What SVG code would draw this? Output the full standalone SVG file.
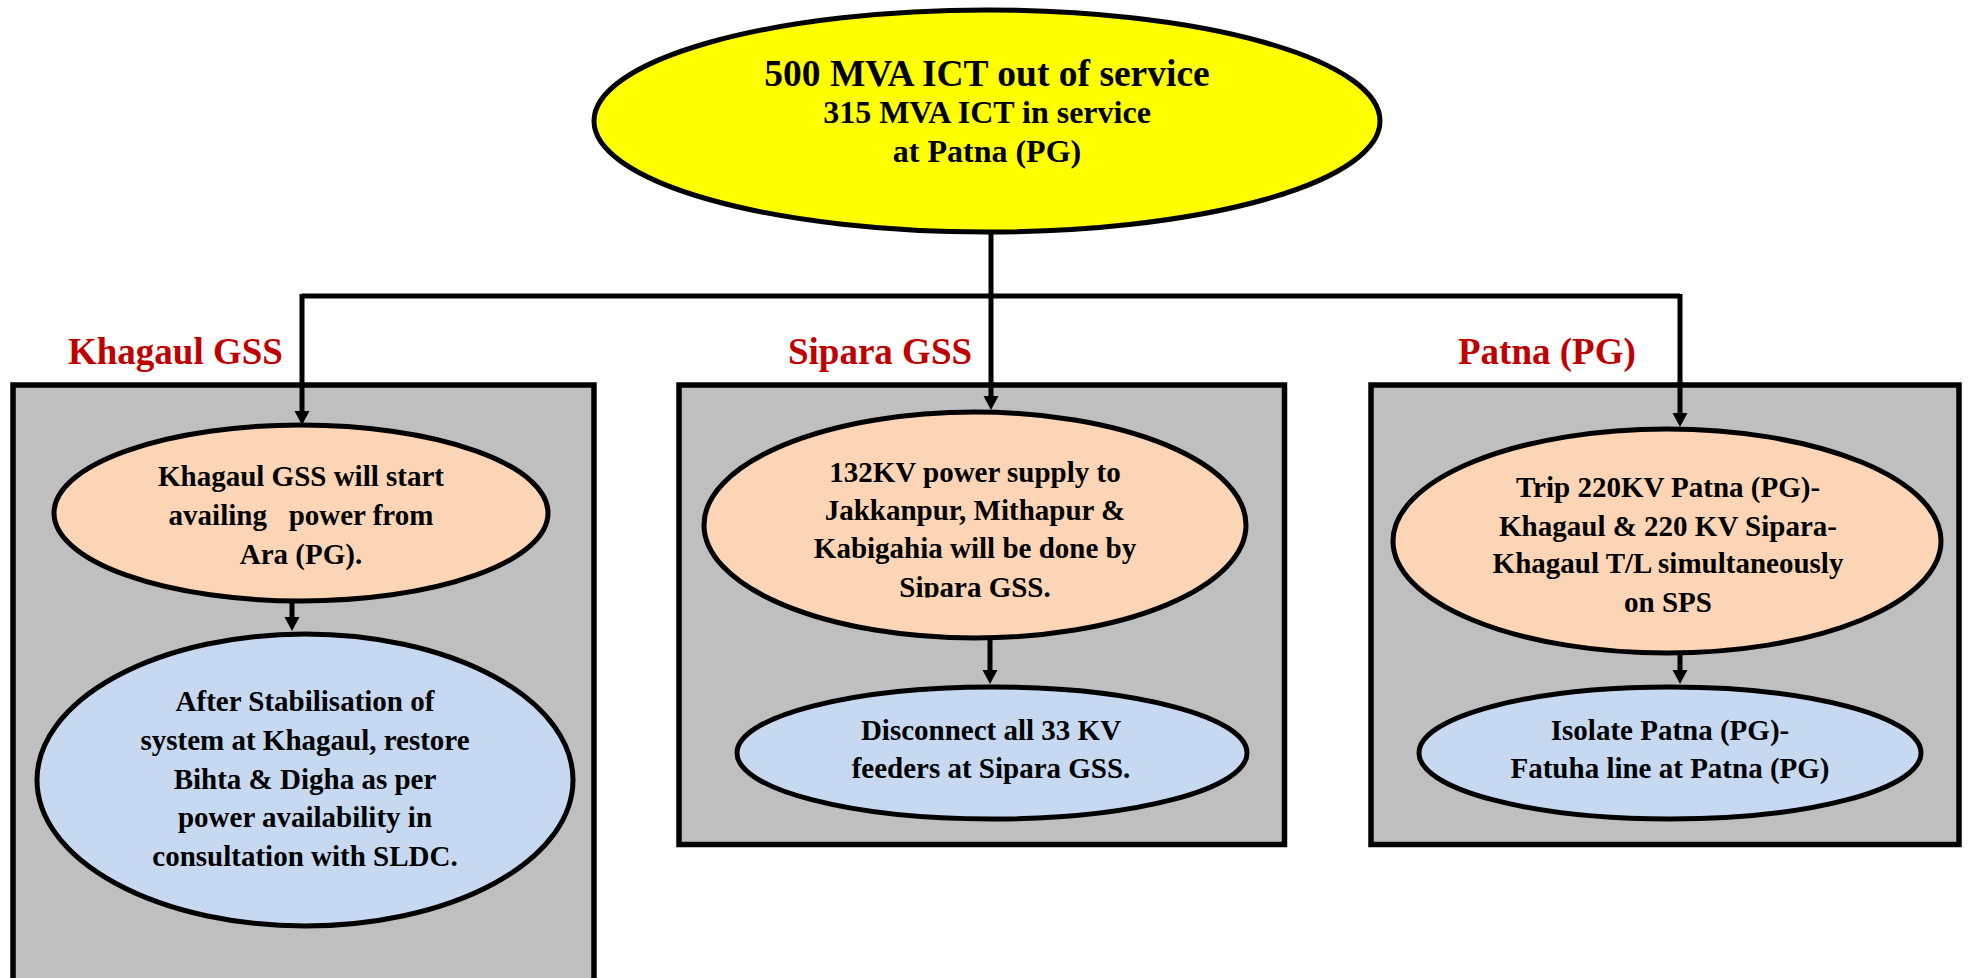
<svg xmlns="http://www.w3.org/2000/svg" width="1968" height="978" viewBox="0 0 1968 978">
<style>
.box{fill:#BFBFBF;stroke:#000;stroke-width:5.5}
.ell{stroke:#000;stroke-width:5}
.top{fill:#FFFF00}
.peach{fill:#FBD5B5}
.blue{fill:#C6D9F0}
text{font-family:"Liberation Serif","Times New Roman",serif;font-weight:bold;text-anchor:middle;fill:#000}
.t29{font-size:29px}
.lbl{font-size:37px;fill:#C00000;text-anchor:start}
.con{fill:none;stroke:#000;stroke-width:5}
</style>
<defs>
<marker id="ah" markerUnits="userSpaceOnUse" markerWidth="16" markerHeight="16" viewBox="0 -8 16 16" refX="0" refY="0" orient="auto">
<path d="M0,-7.5 L14,0 L0,7.5 Z" fill="#000"/>
</marker>
<clipPath id="clipS"><rect x="600" y="380" width="700" height="217.5"/></clipPath>
<clipPath id="clipP"><rect x="1380" y="380" width="580" height="232.5"/></clipPath>
</defs>

<g id="khagaul-box">
<rect class="box" x="13" y="385" width="581" height="620"/>
<text class="lbl" x="68" y="364">Khagaul GSS</text>
</g>
<g id="sipara-box">
<rect class="box" x="679" y="385" width="605.5" height="459.5"/>
<text class="lbl" x="788" y="364">Sipara GSS</text>
</g>
<g id="patna-box">
<rect class="box" x="1371" y="385" width="588" height="459.5"/>
<text class="lbl" x="1458" y="364">Patna (PG)</text>
</g>

<g id="top-node">
<ellipse class="ell top" cx="987" cy="121" rx="393" ry="111"/>
<text x="987" y="86" font-size="37.5">500 MVA ICT out of service</text>
<text x="987" y="123" font-size="32">315 MVA ICT in service</text>
<text x="987" y="162" font-size="32">at Patna (PG)</text>
</g>

<g id="connectors">
<path class="con" d="M991 231 V396" marker-end="url(#ah)"/>
<path class="con" d="M302 296 H1680"/>
<path class="con" d="M302 294 V411" marker-end="url(#ah)"/>
<path class="con" d="M1680 294 V413" marker-end="url(#ah)"/>
<path class="con" d="M292 603 V617" marker-end="url(#ah)"/>
<path class="con" d="M990 640 V670" marker-end="url(#ah)"/>
<path class="con" d="M1680 655 V670" marker-end="url(#ah)"/>
</g>

<g id="khagaul-1">
<ellipse class="ell peach" cx="301" cy="513" rx="247" ry="88"/>
<text class="t29" x="301" y="486">Khagaul GSS will start</text>
<text class="t29" x="301" y="525" xml:space="preserve">availing   power from</text>
<text class="t29" x="301" y="564">Ara (PG).</text>
</g>
<g id="khagaul-2">
<ellipse class="ell blue" cx="305" cy="780" rx="268" ry="146"/>
<text class="t29" x="305" y="711">After Stabilisation of</text>
<text class="t29" x="305" y="750">system at Khagaul, restore</text>
<text class="t29" x="305" y="789">Bihta &amp; Digha as per</text>
<text class="t29" x="305" y="827">power availability in</text>
<text class="t29" x="305" y="866">consultation with SLDC.</text>
</g>

<g id="sipara-1">
<ellipse class="ell peach" cx="975" cy="525" rx="271" ry="113"/>
<g clip-path="url(#clipS)">
<text class="t29" x="975" y="482">132KV power supply to</text>
<text class="t29" x="975" y="520">Jakkanpur, Mithapur &amp;</text>
<text class="t29" x="975" y="558">Kabigahia will be done by</text>
<text class="t29" x="975" y="597">Sipara GSS.</text>
</g>
</g>
<g id="sipara-2">
<ellipse class="ell blue" cx="992" cy="753" rx="255" ry="66"/>
<text class="t29" x="991" y="740">Disconnect all 33 KV</text>
<text class="t29" x="991" y="778">feeders at Sipara GSS.</text>
</g>

<g id="patna-1">
<ellipse class="ell peach" cx="1667" cy="541" rx="274" ry="112"/>
<g clip-path="url(#clipP)">
<text class="t29" x="1668" y="497">Trip 220KV Patna (PG)-</text>
<text class="t29" x="1668" y="536">Khagaul &amp; 220 KV Sipara-</text>
<text class="t29" x="1668" y="573">Khagaul T/L simultaneously</text>
<text class="t29" x="1668" y="612">on SPS</text>
</g>
</g>
<g id="patna-2">
<ellipse class="ell blue" cx="1670" cy="753" rx="251" ry="66"/>
<text class="t29" x="1670" y="740">Isolate Patna (PG)-</text>
<text class="t29" x="1670" y="778">Fatuha line at Patna (PG)</text>
</g>
</svg>
